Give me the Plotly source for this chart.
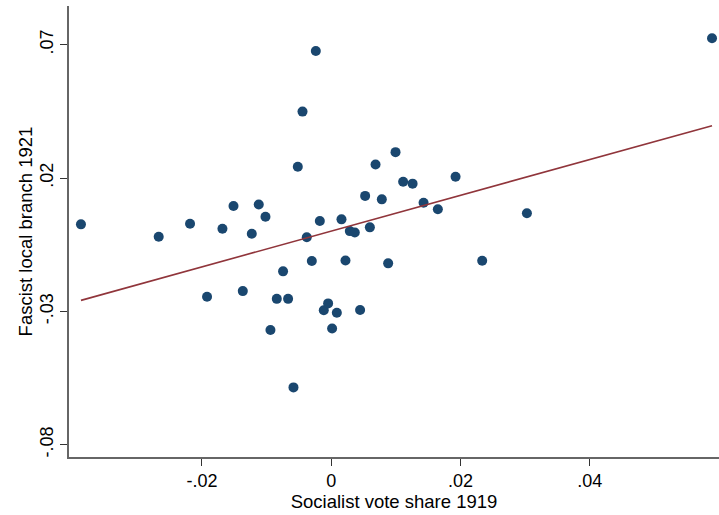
import numpy as np
import plotly.graph_objects as go

# Socialist vote share 1919 (x) and Fascist local branch 1921 (y)
socialist_vote = [
    -0.03872, -0.02669, -0.02184, -0.01921, -0.01683, -0.01512, -0.01368, -0.01229,
    -0.01121, -0.01017, -0.00940, -0.00842, -0.00745, -0.00667, -0.00584, -0.00517,
    -0.00444, -0.00378, -0.00300, -0.00238, -0.00176, -0.00115, -0.00048, 0.00014,
    0.00087, 0.00159, 0.00221, 0.00288, 0.00365, 0.00447, 0.00525, 0.00598,
    0.00686, 0.00783, 0.00881, 0.00995, 0.01113, 0.01259, 0.01429, 0.01650,
    0.01924, 0.02336, 0.03028, 0.05892,
]
fascist_branch = [
    0.00263, -0.0020, 0.00287, -0.0245, 0.0010, 0.0095, -0.0224, -0.0009,
    0.0101, 0.0055, -0.0370, -0.0253, -0.0150, -0.0253, -0.0585, 0.0242,
    0.0449, -0.0022, -0.0111, 0.0676, 0.0039, -0.0296, -0.0270, -0.0364,
    -0.0305, 0.0045, -0.0109, 0.0001, -0.0004, -0.0295, 0.0133, 0.0015,
    0.0251, 0.0120, -0.0120, 0.0297, 0.0186, 0.0179, 0.0107, 0.0083,
    0.0205, -0.0110, 0.0068, 0.0724,
]

# Linear fit
fit_slope = 0.671
fit_intercept = 0.0001

x_tick_vals = [-0.02, 0.0, 0.02, 0.04]
x_tick_text = ["-.02", "0", ".02", ".04"]
y_tick_vals = [-0.08, -0.03, 0.02, 0.07]
y_tick_text = ["-.08", "-.03", ".02", ".07"]

xs = np.array(socialist_vote)
ys = np.array(fascist_branch)
fit_x = np.array([xs.min(), xs.max()])
fit_y = fit_intercept + fit_slope * fit_x

fig = go.Figure()
fig.add_trace(go.Scatter(
    x=xs, y=ys, mode="markers",
    marker=dict(color="#1a476f", size=10, line=dict(width=0)),
    showlegend=False,
))
fig.add_trace(go.Scatter(
    x=fit_x, y=fit_y, mode="lines",
    line=dict(color="#90353b", width=1.6),
    showlegend=False,
))

font_family = "Liberation Sans, Arial, sans-serif"
fig.update_layout(
    width=719, height=515,
    margin=dict(l=69, r=0, t=6, b=58),
    paper_bgcolor="white", plot_bgcolor="white",
    font=dict(family=font_family, color="black", size=18),
    xaxis=dict(
        range=[-0.04057, 0.0600],
        tickvals=x_tick_vals, ticktext=x_tick_text,
        ticks="outside", ticklen=7, tickcolor="#333", tickwidth=1,
        showline=True, linecolor="#666", linewidth=1.5,
        showgrid=False, zeroline=False,
        tickfont=dict(size=18),
        title=dict(text="Socialist vote share 1919", font=dict(size=18.5), standoff=0),
    ),
    yaxis=dict(
        range=[-0.0846, 0.0845],
        tickvals=y_tick_vals, ticktext=y_tick_text,
        tickangle=-90,
        ticks="outside", ticklen=7, tickcolor="#333", tickwidth=1,
        showline=True, linecolor="#666", linewidth=1.5,
        showgrid=False, zeroline=False,
        tickfont=dict(size=18),
        title=dict(text="Fascist local branch 1921", font=dict(size=18.5), standoff=0),
    ),
)

fig.write_html(
    "out.html",
    config={"displayModeBar": False},
    post_script="document.body.style.margin='0';document.body.style.overflow='hidden';",
)
